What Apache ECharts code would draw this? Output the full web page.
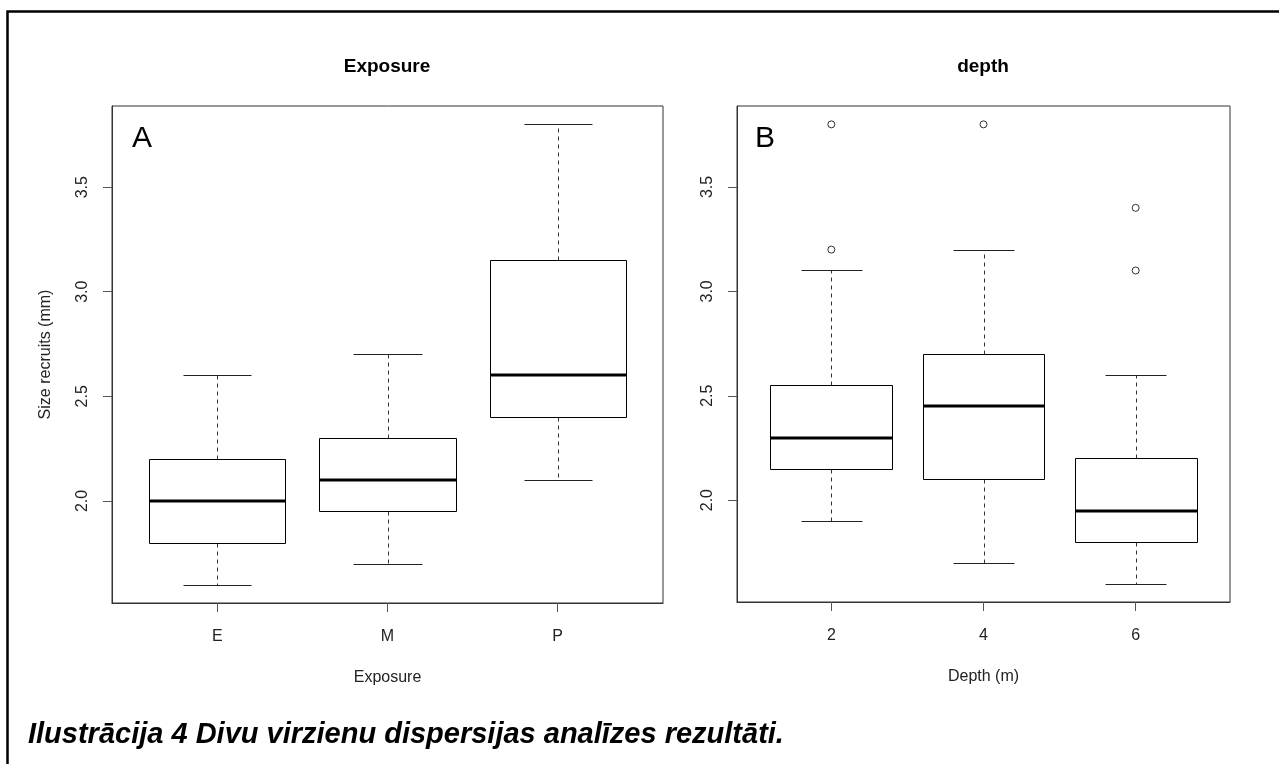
<!DOCTYPE html>
<html>
<head>
<meta charset="utf-8">
<script src="https://cdn.jsdelivr.net/npm/echarts@6/dist/echarts.min.js"></script>
<style>
html,body{margin:0;padding:0;background:#fff;}
#chart{width:1279px;height:764px;}
</style>
</head>
<body>
<div id="chart"></div>
<script>
// ---- data ----
const exposureCats = ['E', 'M', 'P'];
const expLow  = [1.6, 1.7, 2.1];
const expQ1   = [1.8, 1.95, 2.4];
const expMed  = [2.0, 2.1, 2.6];
const expQ3   = [2.2, 2.3, 3.15];
const expHigh = [2.6, 2.7, 3.8];

const depthCats = ['2', '4', '6'];
const depLow  = [1.9, 1.7, 1.6];
const depQ1   = [2.15, 2.1, 1.8];
const depMed  = [2.3, 2.45, 1.95];
const depQ3   = [2.55, 2.7, 2.2];
const depHigh = [3.1, 3.2, 2.6];

const depOutCat = [1, 1, 2, 3, 3];
const depOutVal = [3.2, 3.8, 3.8, 3.1, 3.4];

const yTicks = [2.0, 2.5, 3.0, 3.5];
const catTicks = [1, 2, 3];

// ---- build ----
function boxData(low, q1, med, q3, high) {
  return low.map((v, k) => [k + 1, low[k], q1[k], med[k], q3[k], high[k]]);
}
const px = v => Math.round(v) + 0.5;

function renderBox(params, api) {
  const i = api.value(0);
  const lo = api.value(1), a = api.value(2), m = api.value(3), b = api.value(4), hi = api.value(5);
  const boxW = api.size([0.8, 0])[0];
  const capW = boxW / 2;
  const cx = api.coord([i, lo])[0];
  const yLo = api.coord([i, lo])[1], yA = api.coord([i, a])[1], yM = api.coord([i, m])[1];
  const yB = api.coord([i, b])[1], yHi = api.coord([i, hi])[1];
  const xc = px(cx);
  const x0 = px(cx - boxW / 2), x1 = px(cx + boxW / 2);
  const dash = { stroke: '#333', lineWidth: 1, lineDash: [4, 4] };
  const solid = { stroke: '#222', lineWidth: 1 };
  return {
    type: 'group',
    children: [
      { type: 'line', shape: { x1: xc, y1: px(yB), x2: xc, y2: px(yHi) }, style: dash },
      { type: 'line', shape: { x1: xc, y1: px(yA), x2: xc, y2: px(yLo) }, style: dash },
      { type: 'line', shape: { x1: px(cx - capW / 2), y1: px(yHi), x2: px(cx + capW / 2), y2: px(yHi) }, style: solid },
      { type: 'line', shape: { x1: px(cx - capW / 2), y1: px(yLo), x2: px(cx + capW / 2), y2: px(yLo) }, style: solid },
      { type: 'rect', shape: { x: x0, y: px(yB), width: x1 - x0, height: px(yA) - px(yB) }, style: { fill: '#fff', stroke: '#000', lineWidth: 1 } },
      { type: 'line', shape: { x1: x0, y1: Math.round(yM), x2: x1, y2: Math.round(yM) }, style: { stroke: '#000', lineWidth: 3 } }
    ]
  };
}

const font = 'Liberation Sans, Arial, sans-serif';
const axisColor = '#333';

function xAxisCfg(gi, cats, name) {
  return {
    type: 'value', gridIndex: gi, min: 0.38, max: 3.62,
    splitLine: { show: false },
    axisLine: { show: true, onZero: false, lineStyle: { color: axisColor, width: 1 } },
    axisTick: { show: true, length: 9, customValues: catTicks, lineStyle: { color: '#555' } },
    axisLabel: { customValues: catTicks, formatter: v => cats[Math.round(v) - 1], fontSize: 16, fontFamily: font, color: '#222', margin: 26 },
    name: name, nameLocation: 'middle', nameGap: 67,
    nameTextStyle: { fontSize: 16, fontFamily: font, color: '#222' }
  };
}
function yAxisCfg(gi, name) {
  return {
    type: 'value', gridIndex: gi, min: 1.512, max: 3.888,
    splitLine: { show: false },
    axisLine: { show: true, onZero: false, lineStyle: { color: axisColor, width: 1 } },
    axisTick: { show: true, length: 9, customValues: yTicks, lineStyle: { color: '#555' } },
    axisLabel: { customValues: yTicks, rotate: 90, formatter: v => v.toFixed(1), fontSize: 16, fontFamily: font, color: '#222', margin: 21 },
    name: name, nameLocation: 'middle', nameGap: 58, nameRotate: 90,
    nameTextStyle: { fontSize: 16, fontFamily: font, color: '#222' }
  };
}

const chart = echarts.init(document.getElementById('chart'), null, { renderer: 'canvas' });
chart.setOption({
  animation: false,
  backgroundColor: '#fff',
  grid: [
    { left: 112, top: 106, width: 551, height: 497, show: true, borderColor: axisColor, borderWidth: 1, backgroundColor: 'transparent' },
    { left: 737, top: 106, width: 493, height: 496, show: true, borderColor: axisColor, borderWidth: 1, backgroundColor: 'transparent' }
  ],
  xAxis: [xAxisCfg(0, exposureCats, 'Exposure'), xAxisCfg(1, depthCats, 'Depth (m)')],
  yAxis: [yAxisCfg(0, 'Size recruits (mm)'), yAxisCfg(1, '')],
  series: [
    { type: 'custom', xAxisIndex: 0, yAxisIndex: 0, renderItem: renderBox, data: boxData(expLow, expQ1, expMed, expQ3, expHigh), clip: false },
    { type: 'custom', xAxisIndex: 1, yAxisIndex: 1, renderItem: renderBox, data: boxData(depLow, depQ1, depMed, depQ3, depHigh), clip: false },
    { type: 'scatter', xAxisIndex: 1, yAxisIndex: 1, symbol: 'circle', symbolSize: 7,
      itemStyle: { color: '#fff', borderColor: '#000', borderWidth: 1 },
      data: depOutCat.map((c, k) => [c, depOutVal[k]]) }
  ],
  graphic: [
    { type: 'rect', shape: { x: 7.5, y: 11.5, width: 1400, height: 900 }, style: { fill: 'none', stroke: '#000', lineWidth: 2.5 }, silent: true },
    { type: 'text', x: 387, y: 67, style: { text: 'Exposure', font: 'bold 19px ' + font, fill: '#000', align: 'center', verticalAlign: 'middle' } },
    { type: 'text', x: 983, y: 67, style: { text: 'depth', font: 'bold 19px ' + font, fill: '#000', align: 'center', verticalAlign: 'middle' } },
    { type: 'text', x: 142, y: 139, style: { text: 'A', font: '30px ' + font, fill: '#000', align: 'center', verticalAlign: 'middle' } },
    { type: 'text', x: 765, y: 139, style: { text: 'B', font: '30px ' + font, fill: '#000', align: 'center', verticalAlign: 'middle' } },
    { type: 'text', x: 28, y: 735, style: { text: 'Ilustrācija 4 Divu virzienu dispersijas analīzes rezultāti.', font: 'italic bold 29px ' + font, fill: '#000', align: 'left', verticalAlign: 'middle' } }
  ]
});
</script>
</body>
</html>
